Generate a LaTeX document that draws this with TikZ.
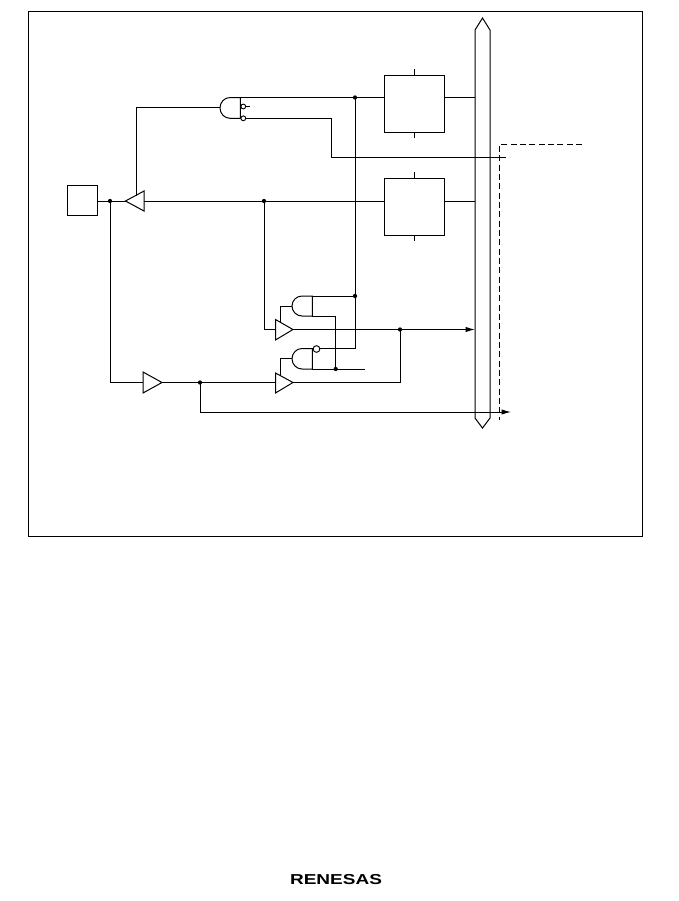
\documentclass[tikz,border=0pt]{standalone}
\usepackage{fontspec}
\setsansfont{Liberation Sans}
\usetikzlibrary{arrows.meta}
\begin{document}
\begin{tikzpicture}[x=0.75pt,y=-0.75pt,line width=0.75pt,
  wire/.style={draw=black,line width=0.75pt},
  dot/.style={circle,fill=black,inner sep=0pt,minimum size=3.2pt},
  pt/.style={inner sep=0pt,minimum size=0pt},
  regbox/.style={draw=black,line width=0.75pt,inner sep=0pt,minimum width=45pt,minimum height=42.75pt},
  padbox/.style={draw=black,line width=0.75pt,inner sep=0pt,minimum width=22.5pt,minimum height=22.5pt},
  bubble/.style={circle,draw=black,fill=white,line width=0.7pt,inner sep=0pt},
  arrowwire/.style={wire,-{Latex[length=7pt,width=4pt]}}]
\useasboundingbox (0,0) rectangle (679,901);
% frame
\draw[wire] (28.5,11) rectangle (642,536.5);
% bus
\draw[wire] (475,30) -- (482.5,18) -- (490,30) -- (490,418) -- (482.5,428) -- (475,418) -- cycle;
% boxes
\node[padbox] (pad) at (82.5,200) {};
\node[regbox] (regA) at (414.5,103.5) {};
\node[regbox] (regB) at (414.5,206.5) {};
\draw[wire] (414.5,69) -- (regA.north);
\draw[wire] (414.5,138) -- (regA.south);
\draw[wire] (414.5,172) -- (regB.north);
\draw[wire] (414.5,241) -- (regB.south);
% gates
\draw[wire] (240.3,97.5) -- (230,97.5) arc[start angle=270,end angle=90,x radius=10,y radius=10.4] -- (240.3,118.3) -- cycle;
\draw[wire] (312.3,296) -- (302,296) arc[start angle=270,end angle=90,x radius=10,y radius=10] -- (312.3,316) -- cycle;
\draw[wire] (312.3,348.5) -- (302,348.5) arc[start angle=270,end angle=90,x radius=10,y radius=10.25] -- (312.3,369) -- cycle;
\draw[wire] (275.5,319.5) -- (275.5,340) -- (293,329.5) -- cycle;
\draw[wire] (275.5,373) -- (275.5,393) -- (293,382.5) -- cycle;
\draw[wire] (125.5,201) -- (144,191) -- (144,211) -- cycle;
\draw[wire] (143,372) -- (143,393) -- (162,382.5) -- cycle;
% junctions
\coordinate (jA) at (355,97.5);
\coordinate (jB) at (110,201);
\coordinate (jC) at (264,201);
\coordinate (jD) at (355,296);
\coordinate (jE) at (335.7,369);
\coordinate (jF) at (400,329.5);
\coordinate (jG) at (200,382.5);
% wires
\draw[wire] (240.3,97.5) -- (jA) -- (regA.west |- jA);
\draw[wire] (regA.east |- jA) -- (475,97.5);
\draw[wire] (regB.east |- jC) -- (475,201);
\draw[wire] (pad.east |- jB) -- (125.5,201);
\draw[wire] (144,201) -- (regB.west |- jC);
\draw[wire] (136,195.5) -- (136,107.5) -- (220,107.5);
\draw[wire] (jB) -- (110,382.5) -- (143,382.5);
\draw[wire] (162,382.5) -- (275.5,382.5);
\draw[wire] (jC) -- (264,329.5) -- (275.5,329.5);
\draw[wire] (jA) -- (355,348.5) -- (319.5,348.5);
\draw[wire] (312.3,296) -- (jD);
\draw[wire] (312.3,316) -- (335.7,316) -- (jE);
\draw[wire] (312.3,369) -- (365,369);
\draw[wire] (292,306) -- (280.5,306) -- (280.5,323);
\draw[wire] (292,358.7) -- (280.5,358.7) -- (280.5,376);
\draw[arrowwire] (293,329.5) -- (475,329.5);
\draw[wire] (293,382.5) -- (400,382.5) -- (jF);
\draw[arrowwire] (jG) -- (200,412) -- (511,412);
\draw[wire] (245.5,118.3) -- (331.5,118.3) -- (331.5,157.5) -- (506,157.5);
\draw[wire] (245.5,106.5) -- (250,106.5);
\draw[wire,dash pattern=on 4.5pt off 2.5pt] (582,144.5) -- (499.5,144.5) -- (499.5,420);
% bubbles
\node[bubble,minimum size=3.6pt] (bA) at (243.3,106.5) {};
\node[bubble,minimum size=3.6pt] (bB) at (243.3,118.3) {};
\node[bubble,minimum size=5pt] (bC) at (316.5,349) {};
% dots
\foreach \c in {jA,jB,jC,jD,jE,jF,jG} \node[dot] at (\c) {};
% logo
\node[pt,xscale=1.32] (logo) at (336,879.5) {\sffamily\bfseries\fontsize{10.8pt}{10.8pt}\selectfont RENESAS};
\end{tikzpicture}
\end{document}
